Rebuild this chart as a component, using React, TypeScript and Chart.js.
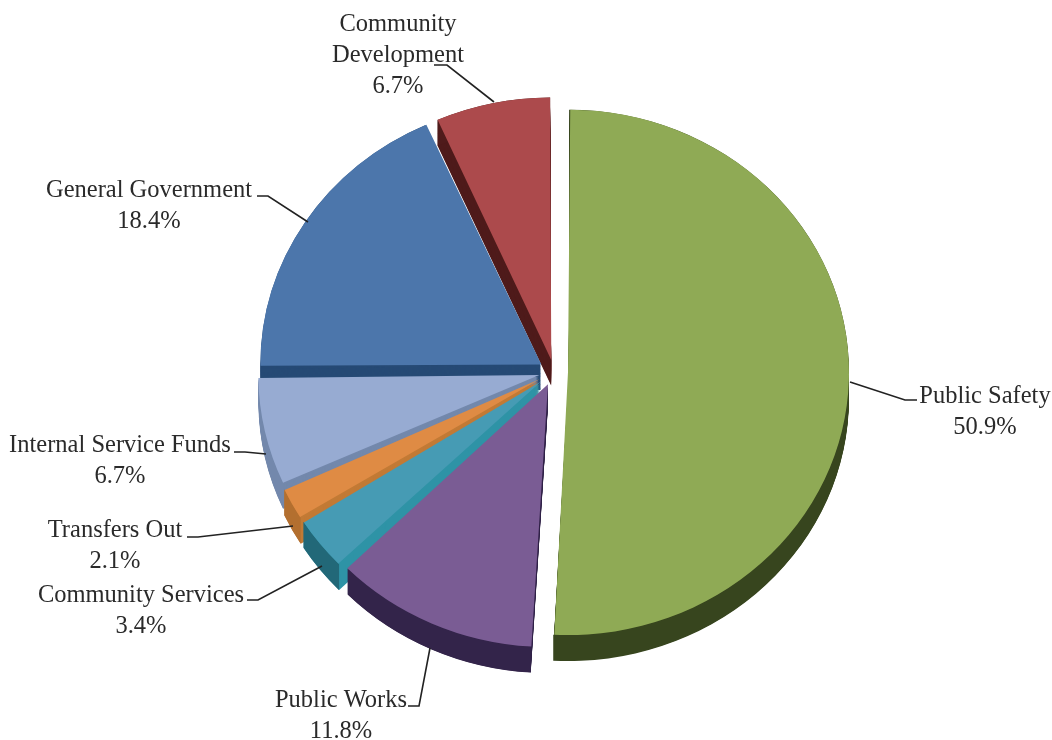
import React, { useEffect, useRef } from "react";
import { Chart, registerables } from "chart.js";

Chart.register(...registerables);

const categories = ["Public Safety", "Public Works", "Community Services", "Transfers Out", "Internal Service Funds", "General Government", "Community Development"];
const shares = [50.9, 11.8, 3.4, 2.1, 6.7, 18.4, 6.7];
const topColors = ["#8FAA55", "#7A5C94", "#469BB4", "#DF8B44", "#97ABD2", "#4C76AB", "#AC4A4C"];
const wallColors = ["#37451E", "#33244A", "#226878", "#B36F2F", "#7388AC", "#264A75", "#4F1B1B"];
const cutColors = ["#37451E", "#33244A", "#2E93A6", "#C27A35", "#7388AC", "#264A75", "#4F1B1B"];
const explode = [14, 14.5, 16.5, 16.5, 15, 15, 13];

const labelLines = [["Public Safety"], ["Public Works"], ["Community Services"], ["Transfers Out"], ["Internal Service Funds"], ["General Government"], ["Community", "Development"]];
const labelCenters: [number, number][] = [[985, 403], [341, 707], [141, 602], [115, 537], [120, 452], [149, 197], [398, 31]];
const leaders: [number, number][][] = [
  [[850, 382], [905, 400], [917, 400]],
  [[430, 648], [419, 706], [408, 706]],
  [[322, 566], [258, 600], [247, 600]],
  [[293, 526], [198, 537], [187, 537]],
  [[266, 454], [245, 452], [234, 452]],
  [[308, 222], [268, 196], [257, 196]],
  [[494, 102], [447, 65], [434, 65]],
];

const CX = 554;
const CY = 372;
const RADIUS = 281;
const TILT = 0.935;
const DEPTH = 26;
const INSET = 0.004;
const FONT = '24.5px "Liberation Serif"';
const LINE = 31;

const tiltPlugin = {
  id: "tilt3d",
  beforeDatasetsDraw(chart: any) {
    const ctx = chart.ctx;
    const arcs = chart.getDatasetMeta(0).data;
    ctx.save();
    ctx.translate(0, CY);
    ctx.scale(1, TILT);
    ctx.translate(0, -CY);
    const lift = DEPTH / TILT;
    for (let i = arcs.length - 1; i >= 0; i--) {
      const arc = arcs[i];
      const { x, y, startAngle, endAngle, circumference } = arc;
      // Chart.js moves a slice by offset/4 and also grows its radius: keep the radius constant.
      const fix = 1 - Math.sin(Math.min(Math.PI, circumference));
      arc.outerRadius = RADIUS - explode[i] * fix;
      const mid = (startAngle + endAngle) / 2;
      const off = explode[i];
      const px = x + Math.cos(mid) * off;
      const py = y + Math.sin(mid) * off;
      const a0 = startAngle + INSET;
      const a1 = endAngle - INSET;
      ctx.fillStyle = cutColors[i];
      const sx = px + Math.cos(mid) * 0.8;
      const sy = py + Math.sin(mid) * 0.8;
      for (let d = lift; d >= 1; d -= 1) {
        ctx.beginPath();
        ctx.moveTo(sx, sy + d);
        ctx.arc(sx, sy + d, RADIUS - 1, a0, a1);
        ctx.closePath();
        ctx.fill();
      }
      ctx.fillStyle = wallColors[i];
      ctx.beginPath();
      ctx.arc(px, py, RADIUS, a0, a1);
      ctx.arc(px, py + lift, RADIUS, a1, a0, true);
      ctx.closePath();
      ctx.fill();
    }
  },
  afterDatasetsDraw(chart: any) {
    chart.ctx.restore();
  },
  afterDraw(chart: any) {
    const ctx = chart.ctx;
    ctx.save();
    ctx.strokeStyle = "#222222";
    ctx.lineWidth = 1.6;
    leaders.forEach((pts) => {
      ctx.beginPath();
      pts.forEach(([x, y], k) => (k ? ctx.lineTo(x, y) : ctx.moveTo(x, y)));
      ctx.stroke();
    });
    ctx.fillStyle = "#2A2A2A";
    ctx.font = FONT;
    ctx.textAlign = "center";
    ctx.textBaseline = "alphabetic";
    categories.forEach((_, i) => {
      const [x, y] = labelCenters[i];
      const lines = [...labelLines[i], shares[i].toFixed(1) + "%"];
      lines.forEach((t, k) => ctx.fillText(t, x, y + k * LINE));
    });
    ctx.restore();
  },
};

export default function App() {
  const ref = useRef<HTMLCanvasElement>(null);
  useEffect(() => {
    document.body.style.margin = "0";
    document.body.style.background = "#ffffff";
    const chart = new Chart(ref.current as HTMLCanvasElement, {
      type: "pie",
      data: {
        labels: categories,
        datasets: [{
          data: shares,
          backgroundColor: topColors,
          borderWidth: 0,
          offset: explode.map((d) => d * 4),
          clip: false,
          radius: RADIUS,
        } as any],
      },
      options: {
        animation: false,
        responsive: false,
        devicePixelRatio: 1,
        layout: { padding: { left: Math.max(0, 2 * CX - 1052), top: Math.max(0, 2 * CY - 740), bottom: Math.max(0, 740 - 2 * CY) } },
        plugins: { legend: { display: false }, tooltip: { enabled: false }, title: { display: false } },
      } as any,
      plugins: [tiltPlugin],
    });
    return () => chart.destroy();
  }, []);
  return <canvas ref={ref} width={1052} height={740} style={{ display: "block", width: 1052, height: 740 }} />;
}
